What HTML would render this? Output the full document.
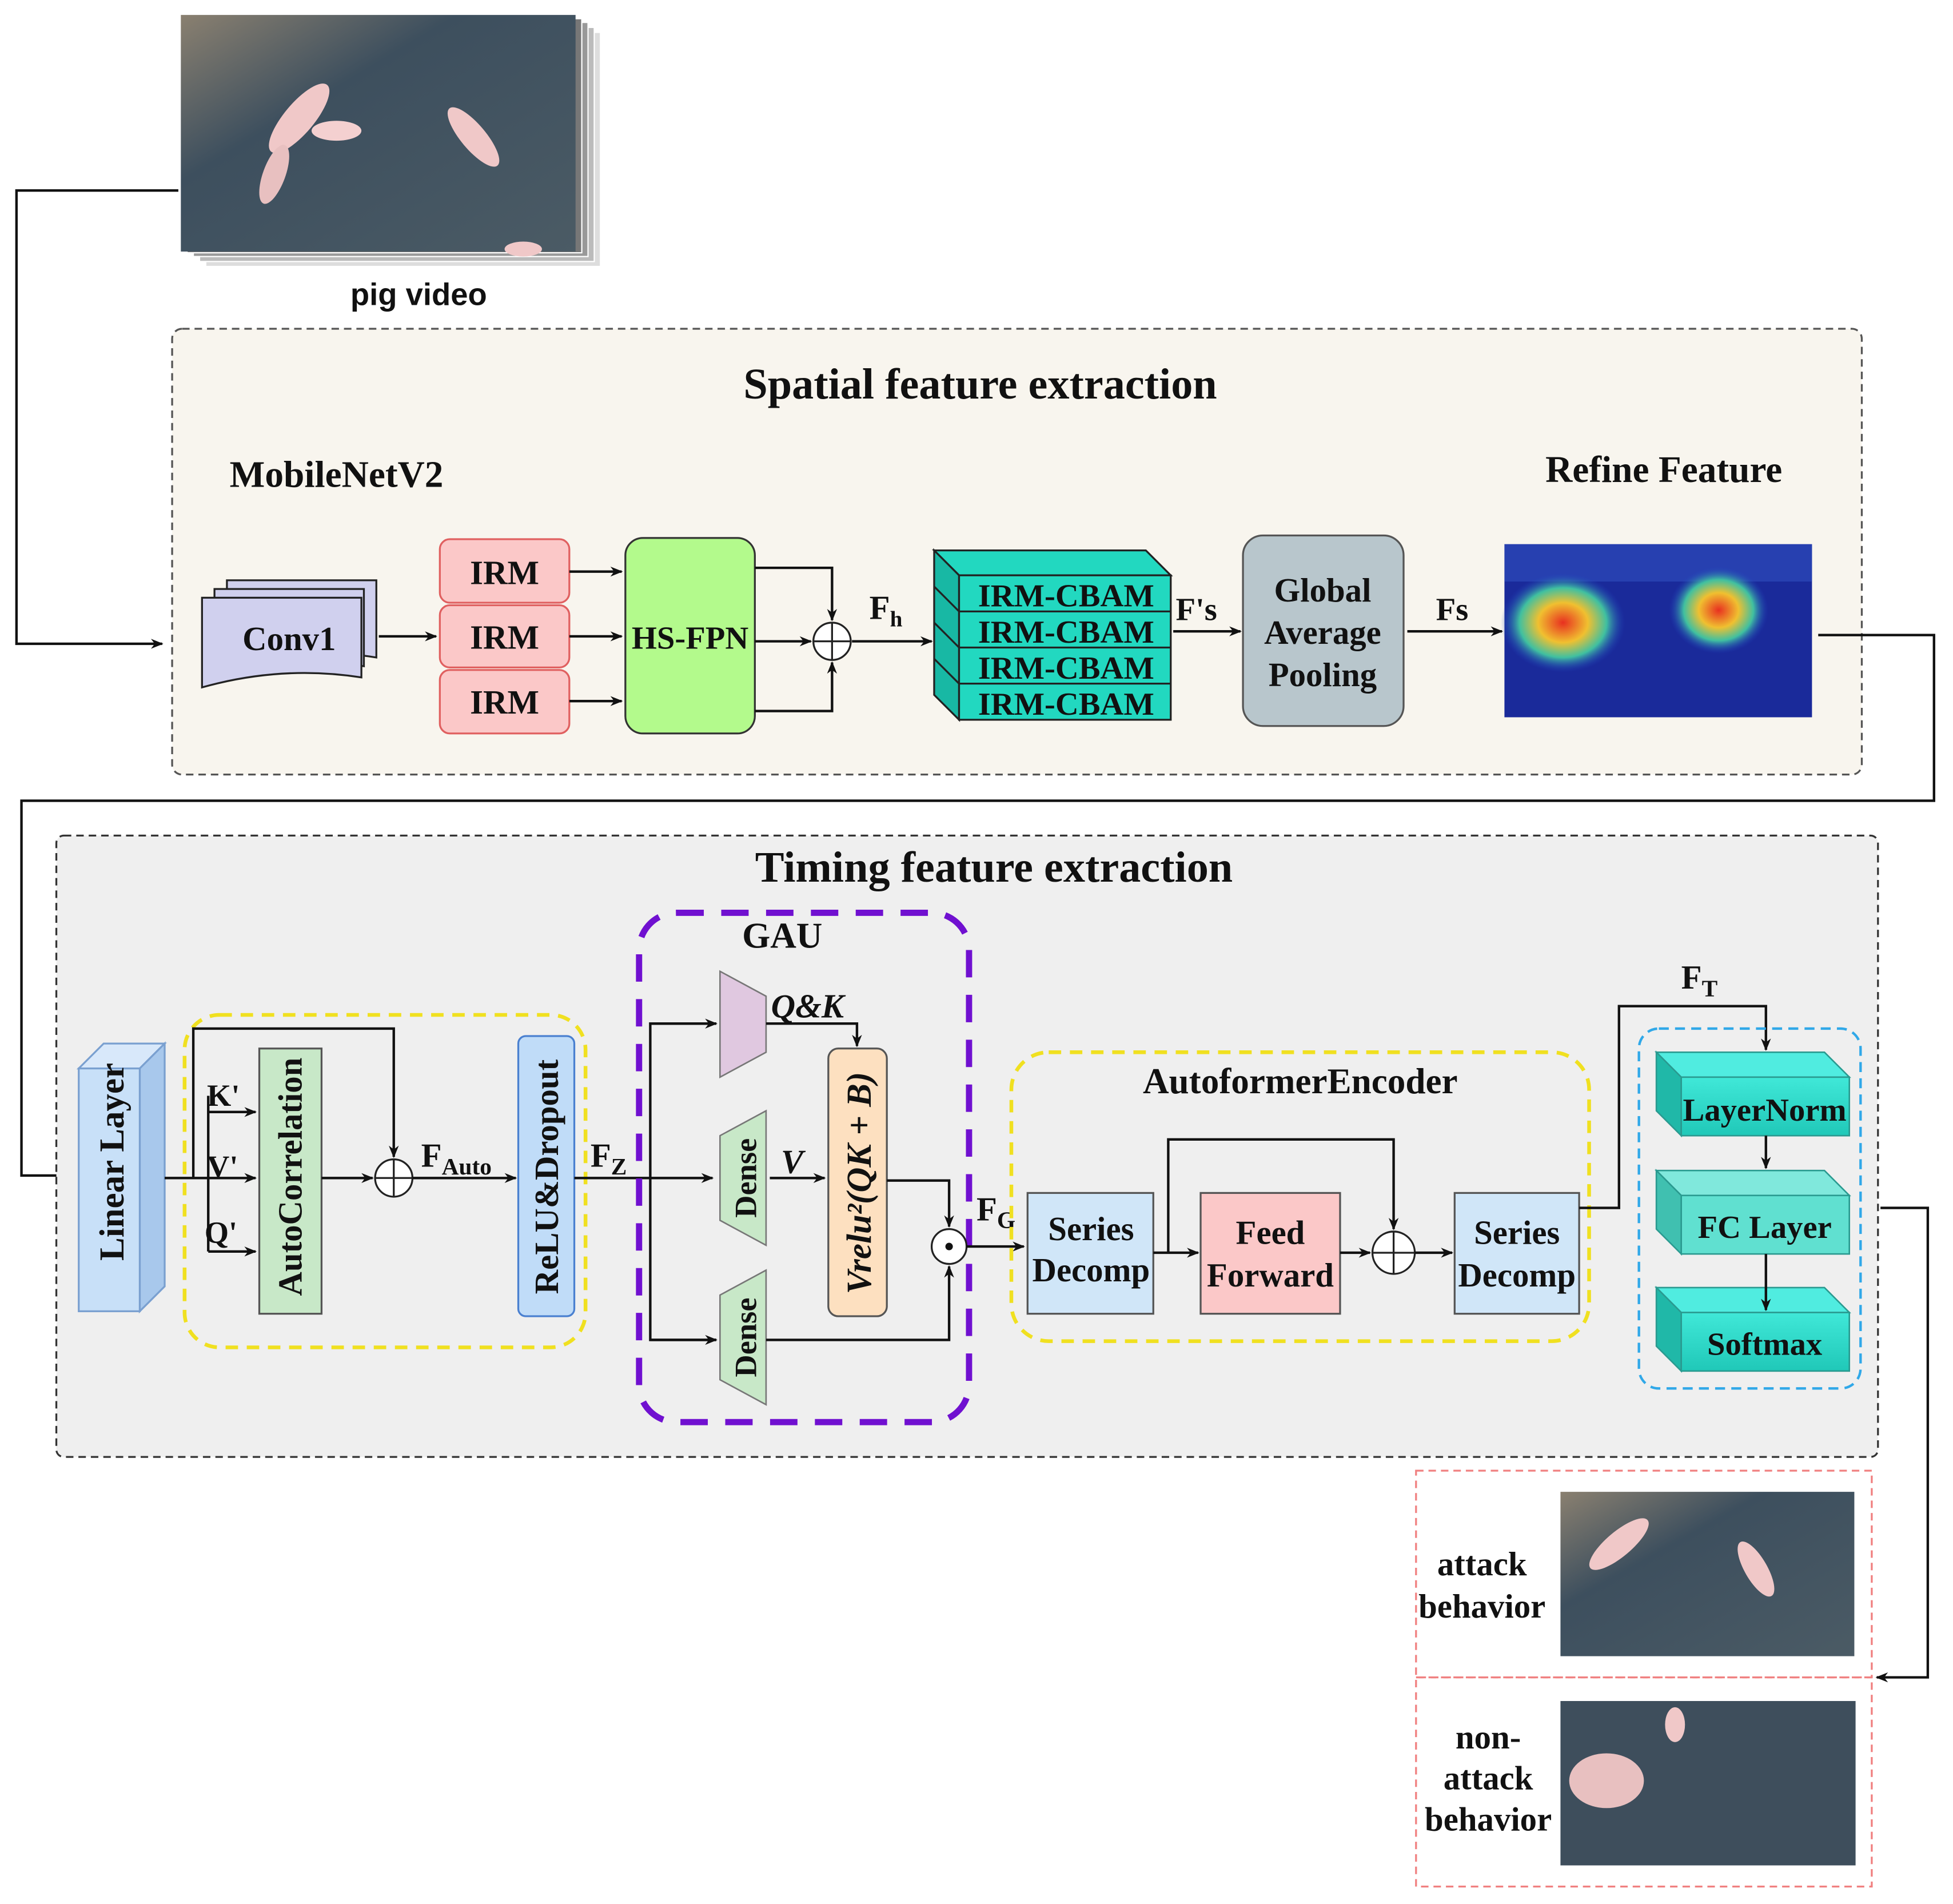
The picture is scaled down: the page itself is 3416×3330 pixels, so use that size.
<!DOCTYPE html>
<html><head><meta charset="utf-8"><style>
html,body{margin:0;padding:0;background:#fff}
svg{display:block}
text{font-family:"Liberation Serif",serif;font-weight:bold;fill:#111}
</style></head><body>
<svg width="3416" height="3330" viewBox="0 0 1568 1529" xmlns="http://www.w3.org/2000/svg">
<defs>
<marker id="a" markerWidth="10" markerHeight="10" refX="9" refY="5" orient="auto" markerUnits="userSpaceOnUse"><path d="M0,1 L10,5 L0,9 L3,5 Z" fill="#111"/></marker>
<linearGradient id="vid" x1="0" y1="0" x2="1" y2="1"><stop offset="0" stop-color="#8a8070"/><stop offset="0.35" stop-color="#3d4f5e"/><stop offset="1" stop-color="#4b5b65"/></linearGradient>
<radialGradient id="hot" cx="0.5" cy="0.5" r="0.5"><stop offset="0" stop-color="#e83020"/><stop offset="0.4" stop-color="#f0c030"/><stop offset="0.7" stop-color="#40c0a0"/><stop offset="1" stop-color="#2040c0" stop-opacity="0"/></radialGradient>
<linearGradient id="teal" x1="0" y1="0" x2="0" y2="1"><stop offset="0" stop-color="#40e8d8"/><stop offset="1" stop-color="#20c8b8"/></linearGradient>
</defs>

<g>
<rect x="165" y="26" width="317" height="188" fill="#ddd" stroke="#fff"/>
<rect x="160" y="22" width="317" height="188" fill="#bbb" stroke="#fff"/>
<rect x="155" y="18" width="317" height="188" fill="#999" stroke="#fff"/>
<rect x="150" y="15" width="317" height="188" fill="#777" stroke="#fff"/>
<rect x="145" y="12" width="317" height="190" fill="url(#vid)"/>
<ellipse cx="240" cy="95" rx="35" ry="12" fill="#f0c8c8" transform="rotate(-50 240 95)"/>
<ellipse cx="270" cy="105" rx="20" ry="8" fill="#f4d0d0"/>
<ellipse cx="380" cy="110" rx="30" ry="10" fill="#f0c8c8" transform="rotate(50 380 110)"/>
<ellipse cx="220" cy="140" rx="25" ry="9" fill="#e8c0c0" transform="rotate(-70 220 140)"/>
<ellipse cx="420" cy="200" rx="15" ry="6" fill="#f0c8c8"/>
</g>
<text x="336" y="245" text-anchor="middle" style="font-family:'Liberation Sans',sans-serif;font-size:25px">pig video</text>
<polyline points="143,153 13,153 13,517 130,517" fill="none" stroke="#111" stroke-width="2" marker-end="url(#a)"/>

<rect x="138" y="264" width="1357" height="358" rx="8" fill="#f8f5ee" stroke="#555" stroke-width="1.5" stroke-dasharray="6,4"/>
<text x="787" y="320" text-anchor="middle" font-size="35">Spatial feature extraction</text>
<text x="270" y="391" text-anchor="middle" font-size="30">MobileNetV2</text>
<text x="1336" y="387" text-anchor="middle" font-size="30">Refine Feature</text>

<g stroke="#222" stroke-width="1.5" fill="#d0d0ee">
<path d="M182,466 h120 v62 q-60,-10 -120,14 z"/>
<path d="M172,473 h120 v62 q-60,-10 -120,14 z"/>
<path d="M162,480 h128 v64 q-64,-10 -128,8 z"/>
</g>
<text x="232" y="522" text-anchor="middle" font-size="27">Conv1</text>
<line x1="304" y1="511" x2="350" y2="511" stroke="#111" stroke-width="2" marker-end="url(#a)"/>

<g fill="#fbc8c8" stroke="#e06060" stroke-width="1.5">
<rect x="353" y="433" width="104" height="51" rx="8"/>
<rect x="353" y="486" width="104" height="50" rx="8"/>
<rect x="353" y="538" width="104" height="51" rx="8"/>
</g>
<g font-size="27" text-anchor="middle"><text x="405" y="469">IRM</text><text x="405" y="521">IRM</text><text x="405" y="573">IRM</text></g>
<g stroke="#111" stroke-width="2" marker-end="url(#a)">
<line x1="457" y1="459" x2="499" y2="459"/><line x1="457" y1="511" x2="499" y2="511"/><line x1="457" y1="563" x2="499" y2="563"/>
</g>
<rect x="502" y="432" width="104" height="157" rx="14" fill="#b3fa8c" stroke="#333" stroke-width="1.5"/>
<text x="554" y="521" text-anchor="middle" font-size="26">HS-FPN</text>
<circle cx="668" cy="515" r="15" fill="#fff" stroke="#222" stroke-width="1.5"/>
<path d="M653,515 h30 M668,500 v30" stroke="#222" stroke-width="1.5"/>
<polyline points="606,456 668,456 668,498" fill="none" stroke="#111" stroke-width="2" marker-end="url(#a)"/>
<polyline points="606,571 668,571 668,532" fill="none" stroke="#111" stroke-width="2" marker-end="url(#a)"/>
<line x1="606" y1="515" x2="651" y2="515" stroke="#111" stroke-width="2" marker-end="url(#a)"/>
<text x="698" y="497" font-size="27">F<tspan font-size="18" dy="6">h</tspan></text>
<line x1="684" y1="515" x2="748" y2="515" stroke="#111" stroke-width="2" marker-end="url(#a)"/>

<g stroke="#222" stroke-width="1.5" fill="#22d8c0">
<polygon points="750,442 920,442 940,462 770,462"/>
<polygon points="750,442 770,462 770,578 750,558" fill="#18b8a4"/>
<rect x="770" y="462" width="170" height="116"/>
<line x1="770" y1="491" x2="940" y2="491"/><line x1="770" y1="520" x2="940" y2="520"/><line x1="770" y1="549" x2="940" y2="549"/>
<line x1="750" y1="471" x2="770" y2="491"/><line x1="750" y1="500" x2="770" y2="520"/><line x1="750" y1="529" x2="770" y2="549"/>
</g>
<g font-size="26" text-anchor="middle"><text x="856" y="487">IRM-CBAM</text><text x="856" y="516">IRM-CBAM</text><text x="856" y="545">IRM-CBAM</text><text x="856" y="574">IRM-CBAM</text></g>
<text x="944" y="498" font-size="26">F's</text>
<line x1="942" y1="507" x2="996" y2="507" stroke="#111" stroke-width="2" marker-end="url(#a)"/>
<rect x="998" y="430" width="129" height="153" rx="16" fill="#b8c6cc" stroke="#555" stroke-width="1.5"/>
<g font-size="27" text-anchor="middle"><text x="1062" y="483">Global</text><text x="1062" y="517">Average</text><text x="1062" y="551">Pooling</text></g>
<text x="1153" y="498" font-size="26">Fs</text>
<line x1="1130" y1="507" x2="1206" y2="507" stroke="#111" stroke-width="2" marker-end="url(#a)"/>
<rect x="1208" y="437" width="247" height="139" fill="#1a2a9a"/>
<rect x="1208" y="437" width="247" height="30" fill="#3050c0" opacity="0.6"/>
<ellipse cx="1255" cy="500" rx="50" ry="40" fill="url(#hot)"/>
<ellipse cx="1380" cy="490" rx="40" ry="35" fill="url(#hot)"/>
<polyline points="1460,510 1553,510 1553,643 17,643 17,944 60,944" fill="none" stroke="#111" stroke-width="2" marker-end="url(#a)"/>

<rect x="45" y="671" width="1463" height="499" rx="6" fill="#efefef" stroke="#333" stroke-width="1.5" stroke-dasharray="6,4"/>
<text x="798" y="708" text-anchor="middle" font-size="35">Timing feature extraction</text>

<g stroke="#7aa0d0" stroke-width="1.5">
<polygon points="63,858 83,838 132,838 112,858" fill="#d8e8fa"/>
<polygon points="112,858 132,838 132,1033 112,1053" fill="#a8c8ec"/>
<rect x="63" y="858" width="49" height="195" fill="#c8e0f8"/>
</g>
<text transform="translate(99,933) rotate(-90)" text-anchor="middle" font-size="28">Linear Layer</text>

<rect x="148" y="815" width="322" height="267" rx="28" fill="none" stroke="#f0e020" stroke-width="3" stroke-dasharray="10,7"/>
<rect x="208" y="842" width="50" height="213" fill="#c8e8c8" stroke="#555" stroke-width="1.5"/>
<text transform="translate(242,945) rotate(-90)" text-anchor="middle" font-size="27">AutoCorrelation</text>
<rect x="416" y="832" width="45" height="225" rx="6" fill="#c0dcf8" stroke="#4a80d0" stroke-width="1.5"/>
<text transform="translate(448,945) rotate(-90)" text-anchor="middle" font-size="27">ReLU&amp;Dropout</text>
<polyline points="132,946 155,946 155,826 316,826 316,929" fill="none" stroke="#111" stroke-width="2" marker-end="url(#a)"/>
<polyline points="167,880 167,1005" fill="none" stroke="#111" stroke-width="2"/>
<g stroke="#111" stroke-width="2" marker-end="url(#a)">
<line x1="167" y1="893" x2="205" y2="893"/><line x1="155" y1="946" x2="205" y2="946"/><line x1="167" y1="1005" x2="205" y2="1005"/>
</g>
<g font-size="25"><text x="166" y="888">K'</text><text x="166" y="945">V'</text><text x="164" y="998">Q'</text></g>
<circle cx="316" cy="946" r="15" fill="#fff" stroke="#222" stroke-width="1.5"/>
<path d="M301,946 h30 M316,931 v30" stroke="#222" stroke-width="1.5"/>
<line x1="258" y1="946" x2="299" y2="946" stroke="#111" stroke-width="2" marker-end="url(#a)"/>
<line x1="331" y1="946" x2="414" y2="946" stroke="#111" stroke-width="2" marker-end="url(#a)"/>
<text x="338" y="937" font-size="27">F<tspan font-size="19" dy="6">Auto</tspan></text>
<text x="474" y="937" font-size="27">F<tspan font-size="19" dy="6">Z</tspan></text>
<line x1="461" y1="946" x2="572" y2="946" stroke="#111" stroke-width="2" marker-end="url(#a)"/>

<rect x="513" y="733" width="265" height="409" rx="30" fill="none" stroke="#7010d0" stroke-width="5" stroke-dasharray="22,14"/>
<text x="628" y="761" text-anchor="middle" font-size="29">GAU</text>
<polygon points="578,780 615,800 615,845 578,865" fill="#e0c8e0" stroke="#777" stroke-width="1.2"/>
<polygon points="578,912 615,892 615,1000 578,980" fill="#c8e8c8" stroke="#777" stroke-width="1.2"/>
<polygon points="578,1040 615,1020 615,1128 578,1108" fill="#c8e8c8" stroke="#777" stroke-width="1.2"/>
<text transform="translate(607,946) rotate(-90)" text-anchor="middle" font-size="25">Dense</text>
<text transform="translate(607,1074) rotate(-90)" text-anchor="middle" font-size="25">Dense</text>
<polyline points="575,822 522,822 522,1076 575,1076" fill="none" stroke="#111" stroke-width="2"/>
<line x1="522" y1="822" x2="575" y2="822" stroke="#111" stroke-width="2" marker-end="url(#a)"/>
<line x1="522" y1="1076" x2="575" y2="1076" stroke="#111" stroke-width="2" marker-end="url(#a)"/>
<rect x="665" y="842" width="47" height="215" rx="8" fill="#fde0c0" stroke="#555" stroke-width="1.5"/>
<text transform="translate(699,950) rotate(-90)" text-anchor="middle" font-size="28" font-weight="normal" font-style="italic">Vrelu²(QK + B)</text>
<text x="619" y="817" font-size="27" font-weight="normal" font-style="italic">Q&amp;K</text>
<polyline points="615,822 688,822 688,840" fill="none" stroke="#111" stroke-width="2" marker-end="url(#a)"/>
<text x="627" y="942" font-size="27" font-weight="normal" font-style="italic">V</text>
<line x1="618" y1="946" x2="662" y2="946" stroke="#111" stroke-width="2" marker-end="url(#a)"/>
<circle cx="762" cy="1001" r="14" fill="#fff" stroke="#222" stroke-width="1.5"/>
<circle cx="762" cy="1001" r="3" fill="#111"/>
<polyline points="712,948 762,948 762,985" fill="none" stroke="#111" stroke-width="2" marker-end="url(#a)"/>
<polyline points="615,1076 762,1076 762,1017" fill="none" stroke="#111" stroke-width="2" marker-end="url(#a)"/>
<text x="784" y="980" font-size="27">F<tspan font-size="19" dy="6">G</tspan></text>
<line x1="776" y1="1001" x2="822" y2="1001" stroke="#111" stroke-width="2" marker-end="url(#a)"/>

<rect x="812" y="845" width="464" height="232" rx="30" fill="none" stroke="#f0e020" stroke-width="3" stroke-dasharray="10,7"/>
<text x="1044" y="878" text-anchor="middle" font-size="29">AutoformerEncoder</text>
<rect x="825" y="958" width="101" height="97" fill="#d0e6f8" stroke="#555" stroke-width="1.5"/>
<text x="876" y="996" text-anchor="middle" font-size="27">Series</text><text x="876" y="1029" text-anchor="middle" font-size="27">Decomp</text>
<rect x="964" y="958" width="112" height="97" fill="#fbc8c8" stroke="#555" stroke-width="1.5"/>
<text x="1020" y="999" text-anchor="middle" font-size="27">Feed</text><text x="1020" y="1033" text-anchor="middle" font-size="27">Forward</text>
<circle cx="1119" cy="1006" r="17" fill="#fff" stroke="#222" stroke-width="1.5"/>
<path d="M1102,1006 h34 M1119,989 v34" stroke="#222" stroke-width="1.5"/>
<rect x="1168" y="958" width="100" height="97" fill="#d0e6f8" stroke="#555" stroke-width="1.5"/>
<text x="1218" y="999" text-anchor="middle" font-size="27">Series</text><text x="1218" y="1033" text-anchor="middle" font-size="27">Decomp</text>
<line x1="926" y1="1006" x2="962" y2="1006" stroke="#111" stroke-width="2" marker-end="url(#a)"/>
<polyline points="938,1006 938,915 1119,915 1119,987" fill="none" stroke="#111" stroke-width="2" marker-end="url(#a)"/>
<line x1="1076" y1="1006" x2="1100" y2="1006" stroke="#111" stroke-width="2" marker-end="url(#a)"/>
<line x1="1136" y1="1006" x2="1166" y2="1006" stroke="#111" stroke-width="2" marker-end="url(#a)"/>
<polyline points="1268,970 1300,970 1300,808 1418,808 1418,843" fill="none" stroke="#111" stroke-width="2" marker-end="url(#a)"/>
<text x="1350" y="794" font-size="27">F<tspan font-size="19" dy="6">T</tspan></text>

<rect x="1316" y="826" width="178" height="289" rx="16" fill="none" stroke="#30a8e8" stroke-width="2" stroke-dasharray="8,5"/>
<g stroke="#2a9a90" stroke-width="1.2">
<polygon points="1330,845 1465,845 1485,865 1350,865" fill="#50ece0"/><polygon points="1330,845 1350,865 1350,912 1330,892" fill="#20b8a8"/><rect x="1350" y="865" width="135" height="47" fill="url(#teal)"/>
<polygon points="1330,940 1465,940 1485,960 1350,960" fill="#80e8dc"/><polygon points="1330,940 1350,960 1350,1007 1330,987" fill="#40c0b0"/><rect x="1350" y="960" width="135" height="47" fill="#60e0d0"/>
<polygon points="1330,1034 1465,1034 1485,1054 1350,1054" fill="#50ece0"/><polygon points="1330,1034 1350,1054 1350,1101 1330,1081" fill="#20b8a8"/><rect x="1350" y="1054" width="135" height="47" fill="url(#teal)"/>
</g>
<text x="1417" y="900" text-anchor="middle" font-size="26">LayerNorm</text>
<text x="1417" y="994" text-anchor="middle" font-size="26">FC Layer</text>
<text x="1417" y="1088" text-anchor="middle" font-size="26">Softmax</text>
<line x1="1418" y1="912" x2="1418" y2="938" stroke="#111" stroke-width="2" marker-end="url(#a)"/>
<line x1="1418" y1="1007" x2="1418" y2="1052" stroke="#111" stroke-width="2" marker-end="url(#a)"/>
<polyline points="1510,970 1548,970 1548,1347 1507,1347" fill="none" stroke="#111" stroke-width="2" marker-end="url(#a)"/>

<rect x="1137" y="1181" width="366" height="166" fill="none" stroke="#f08080" stroke-width="1.5" stroke-dasharray="6,4"/>
<rect x="1137" y="1347" width="366" height="168" fill="none" stroke="#f08080" stroke-width="1.5" stroke-dasharray="6,4"/>
<g font-size="27" text-anchor="middle"><text x="1190" y="1265">attack</text><text x="1190" y="1299">behavior</text>
<text x="1195" y="1404">non-</text><text x="1195" y="1437">attack</text><text x="1195" y="1470">behavior</text></g>
<rect x="1253" y="1198" width="236" height="132" fill="url(#vid)"/>
<ellipse cx="1300" cy="1240" rx="30" ry="10" fill="#f0c8c8" transform="rotate(-40 1300 1240)"/>
<ellipse cx="1410" cy="1260" rx="25" ry="9" fill="#f0c8c8" transform="rotate(60 1410 1260)"/>
<rect x="1253" y="1366" width="237" height="132" fill="#3e4e5c"/>
<ellipse cx="1290" cy="1430" rx="30" ry="22" fill="#e8c0c0"/>
<ellipse cx="1345" cy="1385" rx="8" ry="14" fill="#f0c8c8"/>
</svg>
</body></html>
